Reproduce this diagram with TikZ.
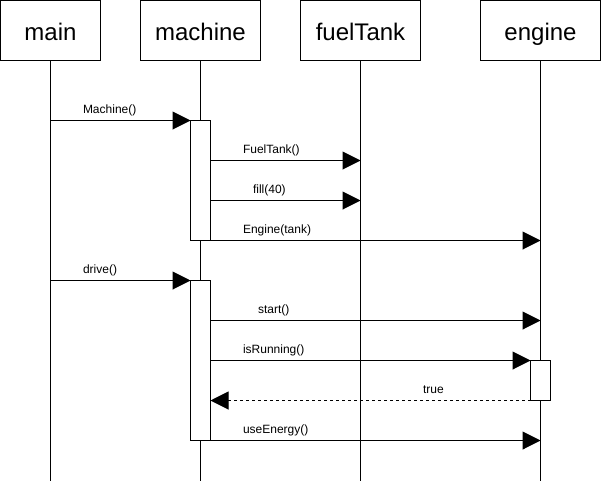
\documentclass[tikz,border=0pt]{standalone}
\usepackage{fontspec}
\setmainfont{Liberation Sans}
\usetikzlibrary{arrows.meta}
\usetikzlibrary{positioning}

\begin{document}
\begin{tikzpicture}[x=1pt, y=-1pt, line width=1pt,
		every node/.style={font=\fontsize{12}{14}\selectfont},
		head/.style={draw, minimum width=120pt, minimum height=60pt, inner sep=0pt, outer sep=0pt, text height=24pt, text depth=5pt, font=\fontsize{24}{28}\selectfont},
		act/.style={draw, fill=white, minimum width=20pt, inner sep=0pt, outer sep=0pt},
		msg/.style={-{Triangle[length=18pt, width=18pt]}},
		lbl/.style={anchor=base west, inner sep=0pt, yshift=7pt}]
		\useasboundingbox (-0.5,-0.5) rectangle (600.5,481.5);
		
		% objects
		\node[head, minimum width=100pt] (main) at (50,30) {main};
		\node[head, right=40pt of main] (machine) {machine};
		\node[head, right=40pt of machine] (fuelTank) {fuelTank};
		\node[head, right=60pt of fuelTank] (engine) {engine};
		
		% lifelines
		\foreach \obj in {main, machine, fuelTank, engine}
			\draw (\obj.south) -- (\obj.south |- 0,480);
		
		% activations
		\node[act, minimum height=120pt, below=60pt of machine.south] (act1) {};
		\node[act, minimum height=160pt, below=220pt of machine.south] (act2) {};
		\node[act, minimum height=40pt, below=300pt of engine.south] (act3) {};
		
		% message rows
		\foreach \y [count=\k] in {120,160,...,440}
			\coordinate (r\k) at (0,\y);
		
		% messages
		\draw[msg] (main |- r1) -- (act1.west |- r1) node[lbl, pos=0, xshift=32pt] {Machine()};
		\draw[msg] (act1.east |- r2) -- (fuelTank |- r2) node[lbl, pos=0, xshift=32pt] {FuelTank()};
		\draw[msg] (act1.east |- r3) -- (fuelTank |- r3) node[lbl, pos=0, xshift=42pt] {fill(40)};
		\draw[msg] (act1.east |- r4) -- (engine |- r4) node[lbl, pos=0, xshift=32pt] {Engine(tank)};
		\draw[msg] (main |- r5) -- (act2.west |- r5) node[lbl, pos=0, xshift=32pt] {drive()};
		\draw[msg] (act2.east |- r6) -- (engine |- r6) node[lbl, pos=0, xshift=47pt] {start()};
		\draw[msg] (act2.east |- r7) -- (act3.west |- r7) node[lbl, pos=0, xshift=32pt] {isRunning()};
		\draw[msg, dashed] (act3.west |- r8) -- (act2.east |- r8) node[lbl, pos=0, xshift=-108pt] {true};
		\draw[msg] (act2.east |- r9) -- (engine |- r9) node[lbl, pos=0, xshift=32pt] {useEnergy()};
	\end{tikzpicture}
\end{document}
